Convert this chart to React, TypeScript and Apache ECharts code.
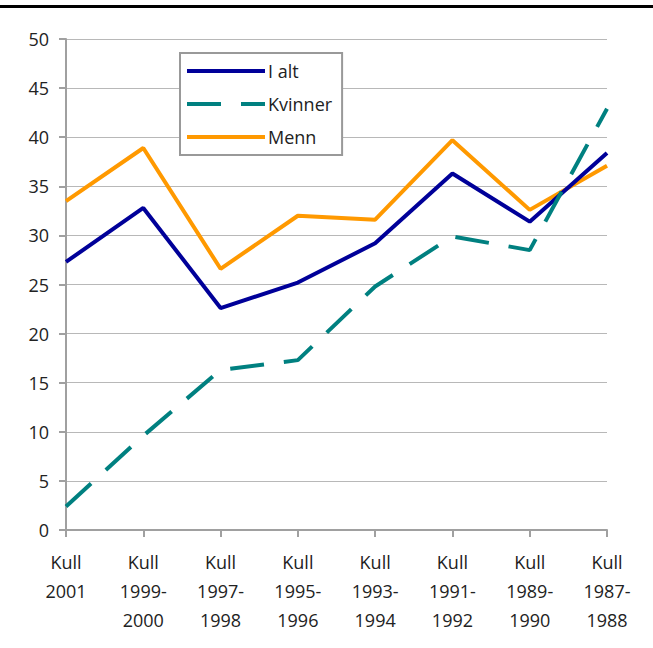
import React, { useEffect, useRef } from "react";
import * as echarts from "echarts";

const categories = [
  "Kull\n2001",
  "Kull\n1999-\n2000",
  "Kull\n1997-\n1998",
  "Kull\n1995-\n1996",
  "Kull\n1993-\n1994",
  "Kull\n1991-\n1992",
  "Kull\n1989-\n1990",
  "Kull\n1987-\n1988",
];
const iAlt = [27.3, 32.8, 22.6, 25.2, 29.2, 36.3, 31.4, 38.4];
const kvinner = [2.4, 9.6, 16.3, 17.3, 24.8, 29.9, 28.5, 42.9];
const menn = [33.5, 38.9, 26.6, 32.0, 31.6, 39.7, 32.6, 37.1];

const FONT = "'Open Sans', 'Noto Sans', sans-serif";

export default function App() {
  const ref = useRef<HTMLDivElement>(null);
  useEffect(() => {
    document.body.style.margin = "0";
    const chart = echarts.init(ref.current!, null, { renderer: "svg" });
    chart.setOption({
      animation: false,
      backgroundColor: "#ffffff",
      textStyle: { fontFamily: FONT },
      grid: { left: 66, right: 46, top: 39, bottom: 118, containLabel: false },
      graphic: [
        {
          type: "line",
          shape: { x1: 0, y1: 6.5, x2: 653, y2: 6.5 },
          style: { stroke: "#000", lineWidth: 3 },
        },
      ],
      legend: {
        left: 180,
        top: 53,
        orient: "vertical",
        backgroundColor: "#fff",
        borderColor: "#999",
        borderWidth: 2,
        borderRadius: 0,
        padding: [8, 10, 8, 5],
        itemWidth: 78,
        itemHeight: 14,
        itemGap: 13,
        itemStyle: { opacity: 0 },
        lineStyle: { width: 4 },
        textStyle: { fontFamily: FONT, fontSize: 18, color: "#222", lineHeight: 20, padding: [0, 0, 0, -2] },
        data: ["I alt", "Kvinner", "Menn"],
      },
      xAxis: {
        type: "category",
        data: categories,
        boundaryGap: false,
        axisLine: { lineStyle: { color: "#a0a0a0", width: 2 } },
        axisTick: { show: true, length: 7, lineStyle: { color: "#a0a0a0", width: 2 } },
        axisLabel: {
          interval: 0,
          margin: 17,
          fontFamily: FONT,
          fontSize: 18,
          lineHeight: 29,
          color: "#222",
        },
      },
      yAxis: {
        type: "value",
        min: 0,
        max: 50,
        interval: 5,
        axisLine: { show: true, lineStyle: { color: "#a0a0a0", width: 2 } },
        axisTick: { show: true, length: 7, lineStyle: { color: "#a0a0a0", width: 2 } },
        splitLine: { lineStyle: { color: "#b8b8b8", width: 1 } },
        axisLabel: { margin: 17, fontFamily: FONT, fontSize: 18, color: "#222" },
      },
      series: [
        {
          name: "I alt",
          type: "line",
          data: iAlt,
          symbol: "none",
          lineStyle: { color: "#000099", width: 4 },
          itemStyle: { color: "#000099" },
          z: 3,
        },
        {
          name: "Kvinner",
          type: "line",
          data: kvinner,
          symbol: "none",
          lineStyle: { color: "#008080", width: 4, type: [34, 20] },
          itemStyle: { color: "#008080" },
          z: 4,
        },
        {
          name: "Menn",
          type: "line",
          data: menn,
          symbol: "none",
          lineStyle: { color: "#FF9900", width: 4 },
          itemStyle: { color: "#FF9900" },
          z: 2,
        },
      ],
    });
    return () => chart.dispose();
  }, []);
  return <div ref={ref} style={{ width: 653, height: 648 }} />;
}
